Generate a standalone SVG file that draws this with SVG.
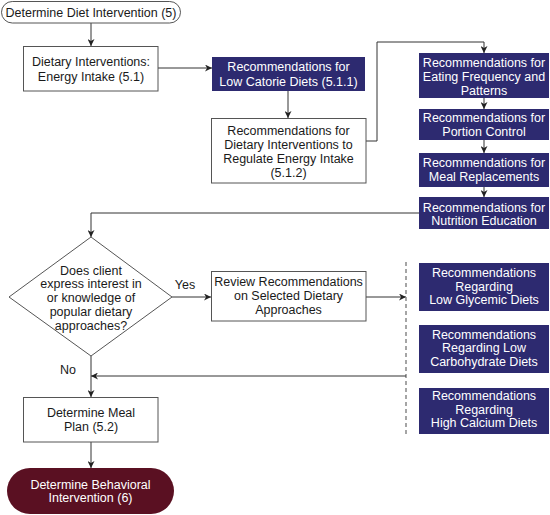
<svg xmlns="http://www.w3.org/2000/svg" width="550" height="515" viewBox="0 0 550 515">
<style>
text{font-family:"Liberation Sans",Arial,sans-serif;font-size:12.5px;text-anchor:middle}
.w{fill:#ffffff;stroke:#555555;stroke-width:1}
.b{fill:#2d2a70}
.m{fill:#5a1022}
.bt{fill:#ffffff}
.dt{fill:#1a1a1a}
.c{fill:none;stroke:#333333;stroke-width:1}
</style>
<defs>
<marker id="ah" viewBox="0 0 10 10" refX="10" refY="5" markerWidth="7" markerHeight="7" markerUnits="userSpaceOnUse" orient="auto">
<path d="M0,0 L10,5 L0,10 L3,5 Z" fill="#222222"/>
</marker>
</defs>
<rect width="550" height="515" fill="#ffffff"/>
<g id="connectors">
<line class="c" x1="91" y1="23" x2="91" y2="46" marker-end="url(#ah)"/>
<line class="c" x1="158" y1="68" x2="212" y2="68" marker-end="url(#ah)"/>
<line class="c" x1="288" y1="91" x2="288" y2="118" marker-end="url(#ah)"/>
<polyline class="c" points="366,141 377,141 377,42 484,42 484,53" marker-end="url(#ah)"/>
<line class="c" x1="484" y1="98" x2="484" y2="109" marker-end="url(#ah)"/>
<line class="c" x1="484" y1="140" x2="484" y2="153" marker-end="url(#ah)"/>
<line class="c" x1="484" y1="187" x2="484" y2="197" marker-end="url(#ah)"/>
<polyline class="c" points="419,213 91,213 91,237" marker-end="url(#ah)"/>
<line class="c" x1="172" y1="297" x2="211" y2="297" marker-end="url(#ah)"/>
<line class="c" x1="366" y1="297" x2="406" y2="297" marker-end="url(#ah)"/>
<line x1="406" y1="262" x2="406" y2="434" stroke="#888888" stroke-width="1.5" stroke-dasharray="4,3"/>
<line class="c" x1="406" y1="376" x2="91" y2="376" marker-end="url(#ah)"/>
<line class="c" x1="91" y1="356" x2="91" y2="397" marker-end="url(#ah)"/>
<line class="c" x1="91" y1="442" x2="91" y2="468" marker-end="url(#ah)"/>
<text class="dt" x="185" y="289">Yes</text>
<text class="dt" x="68" y="374">No</text>
</g>
<g id="start">
<rect class="w" x="1.5" y="1.5" width="179" height="21.5" rx="10.75"/>
<text class="dt" x="91" y="16.5">Determine Diet Intervention (5)</text>
</g>
<g id="energy">
<rect class="w" x="23.5" y="46.5" width="134.5" height="44.5"/>
<text class="dt" x="91" y="66">Dietary Interventions:</text>
<text class="dt" x="91" y="81">Energy Intake (5.1)</text>
</g>
<g id="lowcal">
<rect class="b" x="212" y="57" width="153" height="34"/>
<text class="bt" x="288.5" y="71">Recommendations for</text>
<text class="bt" x="288.5" y="86">Low Catorie Diets (5.1.1)</text>
</g>
<g id="regulate">
<rect class="w" x="211.5" y="118.5" width="154.5" height="64.5"/>
<text class="dt" x="288.5" y="135">Recommendations for</text>
<text class="dt" x="288.5" y="149">Dietary Interventions to</text>
<text class="dt" x="288.5" y="163">Regulate Energy Intake</text>
<text class="dt" x="288.5" y="177">(5.1.2)</text>
</g>
<g id="frequency">
<rect class="b" x="419" y="53" width="130" height="45"/>
<text class="bt" x="484" y="67">Recommendations for</text>
<text class="bt" x="484" y="81">Eating Frequency and</text>
<text class="bt" x="484" y="95">Patterns</text>
</g>
<g id="portion">
<rect class="b" x="419" y="109" width="130" height="31"/>
<text class="bt" x="484" y="122">Recommendations for</text>
<text class="bt" x="484" y="136">Portion Control</text>
</g>
<g id="meal-repl">
<rect class="b" x="419" y="153" width="130" height="34"/>
<text class="bt" x="484" y="167">Recommendations for</text>
<text class="bt" x="484" y="181">Meal Replacements</text>
</g>
<g id="nutrition">
<rect class="b" x="419" y="197" width="130" height="32"/>
<text class="bt" x="484" y="212">Recommendations for</text>
<text class="bt" x="484" y="225">Nutrition Education</text>
</g>
<g id="decision">
<polygon class="w" points="91,237 172,297 91,356 9,297"/>
<text class="dt" x="91" y="274.5">Does client</text>
<text class="dt" x="91" y="288">express interest in</text>
<text class="dt" x="91" y="302">or knowledge of</text>
<text class="dt" x="91" y="316">popular dietary</text>
<text class="dt" x="91" y="329.5">approaches?</text>
</g>
<g id="review">
<rect class="w" x="211.5" y="271.5" width="154.5" height="49.5"/>
<text class="dt" x="288.5" y="286">Review Recommendations</text>
<text class="dt" x="288.5" y="300">on Selected Dietary</text>
<text class="dt" x="288.5" y="313.5">Approaches</text>
</g>
<g id="glycemic">
<rect class="b" x="419" y="263" width="130" height="48"/>
<text class="bt" x="484" y="277">Recommendations</text>
<text class="bt" x="484" y="291">Regarding</text>
<text class="bt" x="484" y="304">Low Glycemic Diets</text>
</g>
<g id="lowcarb">
<rect class="b" x="419" y="325" width="130" height="48"/>
<text class="bt" x="484" y="339">Recommendations</text>
<text class="bt" x="484" y="352">Regarding Low</text>
<text class="bt" x="484" y="366">Carbohydrate Diets</text>
</g>
<g id="calcium">
<rect class="b" x="419" y="388" width="130" height="46"/>
<text class="bt" x="484" y="400">Recommendations</text>
<text class="bt" x="484" y="414">Regarding</text>
<text class="bt" x="484" y="427">High Calcium Diets</text>
</g>
<g id="mealplan">
<rect class="w" x="23.5" y="397.5" width="134.5" height="44.5"/>
<text class="dt" x="91" y="417">Determine Meal</text>
<text class="dt" x="91" y="431">Plan (5.2)</text>
</g>
<g id="behavioral">
<rect class="m" x="7" y="468" width="167" height="46" rx="23"/>
<text class="bt" x="90.5" y="489">Determine Behavioral</text>
<text class="bt" x="90.5" y="502">Intervention (6)</text>
</g>
</svg>
